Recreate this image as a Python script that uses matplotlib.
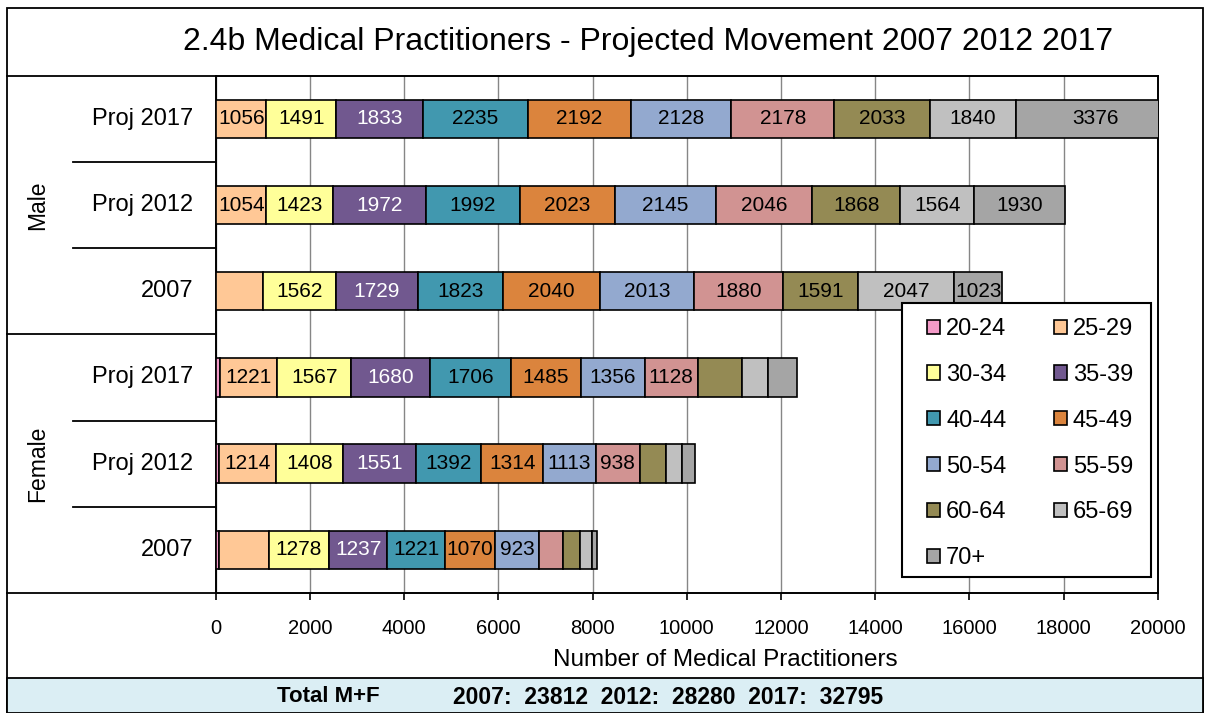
import matplotlib.pyplot as plt
import matplotlib.transforms as mtransforms
from matplotlib.patches import Patch, Rectangle
from matplotlib.lines import Line2D

plt.rcParams["font.family"] = ["Liberation Sans", "DejaVu Sans"]

# === DATA ===
AGE_GROUPS = ["20-24", "25-29", "30-34", "35-39", "40-44", "45-49",
              "50-54", "55-59", "60-64", "65-69", "70+"]
COLOURS = ["#F49AC8", "#FFC896", "#FFFF99", "#71588F", "#4198AF", "#DB843D",
           "#93A9CF", "#D19392", "#948A54", "#C0C0C0", "#A5A5A5"]

# rows from bottom to top
ROW_LABELS = ["2007", "Proj 2012", "Proj 2017", "2007", "Proj 2012", "Proj 2017"]
GROUP_LABELS = ["Female", "Male"]

female_2007 = [70, 1060, 1278, 1237, 1221, 1070, 923, 520, 353, 248, 106]
female_2012 = [75, 1214, 1408, 1551, 1392, 1314, 1113, 938, 560, 340, 262]
female_2017 = [90, 1221, 1567, 1680, 1706, 1485, 1356, 1128, 950, 545, 607]
male_2007 = [10, 985, 1562, 1729, 1823, 2040, 2013, 1880, 1591, 2047, 1023]
male_2012 = [15, 1054, 1423, 1972, 1992, 2023, 2145, 2046, 1868, 1564, 1930]
male_2017 = [15, 1056, 1491, 1833, 2235, 2192, 2128, 2178, 2033, 1840, 3376]

# which segments carry a data label
female_2007_lbl = [0, 0, 1, 1, 1, 1, 1, 0, 0, 0, 0]
female_2012_lbl = [0, 1, 1, 1, 1, 1, 1, 1, 0, 0, 0]
female_2017_lbl = [0, 1, 1, 1, 1, 1, 1, 1, 0, 0, 0]
male_2007_lbl = [0, 0, 1, 1, 1, 1, 1, 1, 1, 1, 1]
male_2012_lbl = [0, 1, 1, 1, 1, 1, 1, 1, 1, 1, 1]
male_2017_lbl = [0, 1, 1, 1, 1, 1, 1, 1, 1, 1, 1]

X_TICKS = list(range(0, 20001, 2000))
TOTALS = {"2007": 23812, "2012": 28280, "2017": 32795}

rows = [female_2007, female_2012, female_2017, male_2007, male_2012, male_2017]
row_lbls = [female_2007_lbl, female_2012_lbl, female_2017_lbl,
            male_2007_lbl, male_2012_lbl, male_2017_lbl]

# === LAYOUT (pixels) ===
W, H = 1206, 713
def fx(px):
    return px / W
def fy(py):
    return 1 - py / H

AX_L, AX_R, AX_T, AX_B = 215.7, 1157.7, 75.7, 593.0

fig = plt.figure(figsize=(W / 100, H / 100), dpi=100)
ax = fig.add_axes([fx(AX_L), fy(AX_B), (AX_R - AX_L) / W, (AX_B - AX_T) / H])

# outer frame and bottom band
fig.patches.append(Rectangle((fx(7), 0), fx(1203) - fx(7), fy(8), transform=fig.transFigure,
                             fill=False, edgecolor="black", linewidth=1.3, zorder=0))
fig.patches.append(Rectangle((fx(7), 0), fx(1203) - fx(7), fy(678), transform=fig.transFigure,
                             facecolor="#DBEEF4", edgecolor="black", linewidth=1.3, zorder=0))

# bars
for i, (vals, lbls) in enumerate(zip(rows, row_lbls)):
    left = 0
    for j, v in enumerate(vals):
        ax.barh(i, v, left=left, height=0.445, color=COLOURS[j], edgecolor="black",
                linewidth=1.2, zorder=3)
        if lbls[j]:
            ax.text(left + v / 2, i, str(v), ha="center", va="center", fontsize=15,
                    color="white" if j == 3 else "black", zorder=4)
        left += v

ax.set_xlim(0, 20000)
ax.set_ylim(-0.5, 5.5)
ax.set_xticks(X_TICKS)
ax.set_yticks([])
ax.tick_params(axis="x", direction="out", length=5, width=1.2, pad=14, labelsize=14.5)
ax.grid(axis="x", color="#868686", linewidth=1, zorder=0)
for s in ax.spines.values():
    s.set_linewidth(1.4)
    s.set_color("black")

fig.text(fx(725), fy(660), "Number of Medical Practitioners", ha="center", va="center",
         fontsize=17.5)

# category axis: labels and separators
blend = mtransforms.blended_transform_factory(fig.transFigure, ax.transData)
for i, lab in enumerate(ROW_LABELS):
    ax.text(fx(193), i, lab, transform=blend, ha="right", va="center", fontsize=17)
for b in [0.5, 1.5, 3.5, 4.5]:
    ax.add_line(Line2D([fx(73), fx(AX_L)], [b, b], transform=blend, color="black",
                       linewidth=1.3, clip_on=False))
for b in [-0.5, 2.5, 5.5]:
    ax.add_line(Line2D([fx(7), fx(AX_L)], [b, b], transform=blend, color="black",
                       linewidth=1.3, clip_on=False))
for k, g in enumerate(GROUP_LABELS):
    ax.text(fx(38), 1 + 3 * k, g, transform=blend, ha="center", va="center",
            rotation=90, fontsize=16.5)

# legend box, then entries in row-wise order for two columns
ax.add_patch(Rectangle((fx(901.7), fy(576.7)), fx(1151) - fx(901.7), (576.7 - 303.3) / H,
                       transform=fig.transFigure, facecolor="white", edgecolor="black",
                       linewidth=1.5, clip_on=False, zorder=9))
handles = [Patch(facecolor=c, edgecolor="black", linewidth=1.2) for c in COLOURS]
order = [0, 2, 4, 6, 8, 10, 1, 3, 5, 7, 9]
leg = ax.legend([handles[k] for k in order], [AGE_GROUPS[k] for k in order], ncol=2,
                loc="upper left", bbox_to_anchor=(fx(927), fy(318)),
                bbox_transform=fig.transFigure, fontsize=17, frameon=False,
                handlelength=0.55, handleheight=0.55, handletextpad=0.26,
                labelspacing=1.01, columnspacing=2.0, borderpad=0, borderaxespad=0)
leg.set_zorder(10)

fig.text(fx(648), fy(42), "2.4b Medical Practitioners - Projected Movement 2007 2012 2017",
         ha="center", va="center", fontsize=23)
tot = "  ".join(f"{k}:  {v}" for k, v in TOTALS.items())
fig.text(fx(380), fy(697), "Total M+F", ha="right", va="center",
         fontsize=16, fontweight="bold")
fig.text(fx(453), fy(697), tot, ha="left", va="center", fontsize=16.5, fontweight="bold")

fig.savefig("out.png", dpi=100)
